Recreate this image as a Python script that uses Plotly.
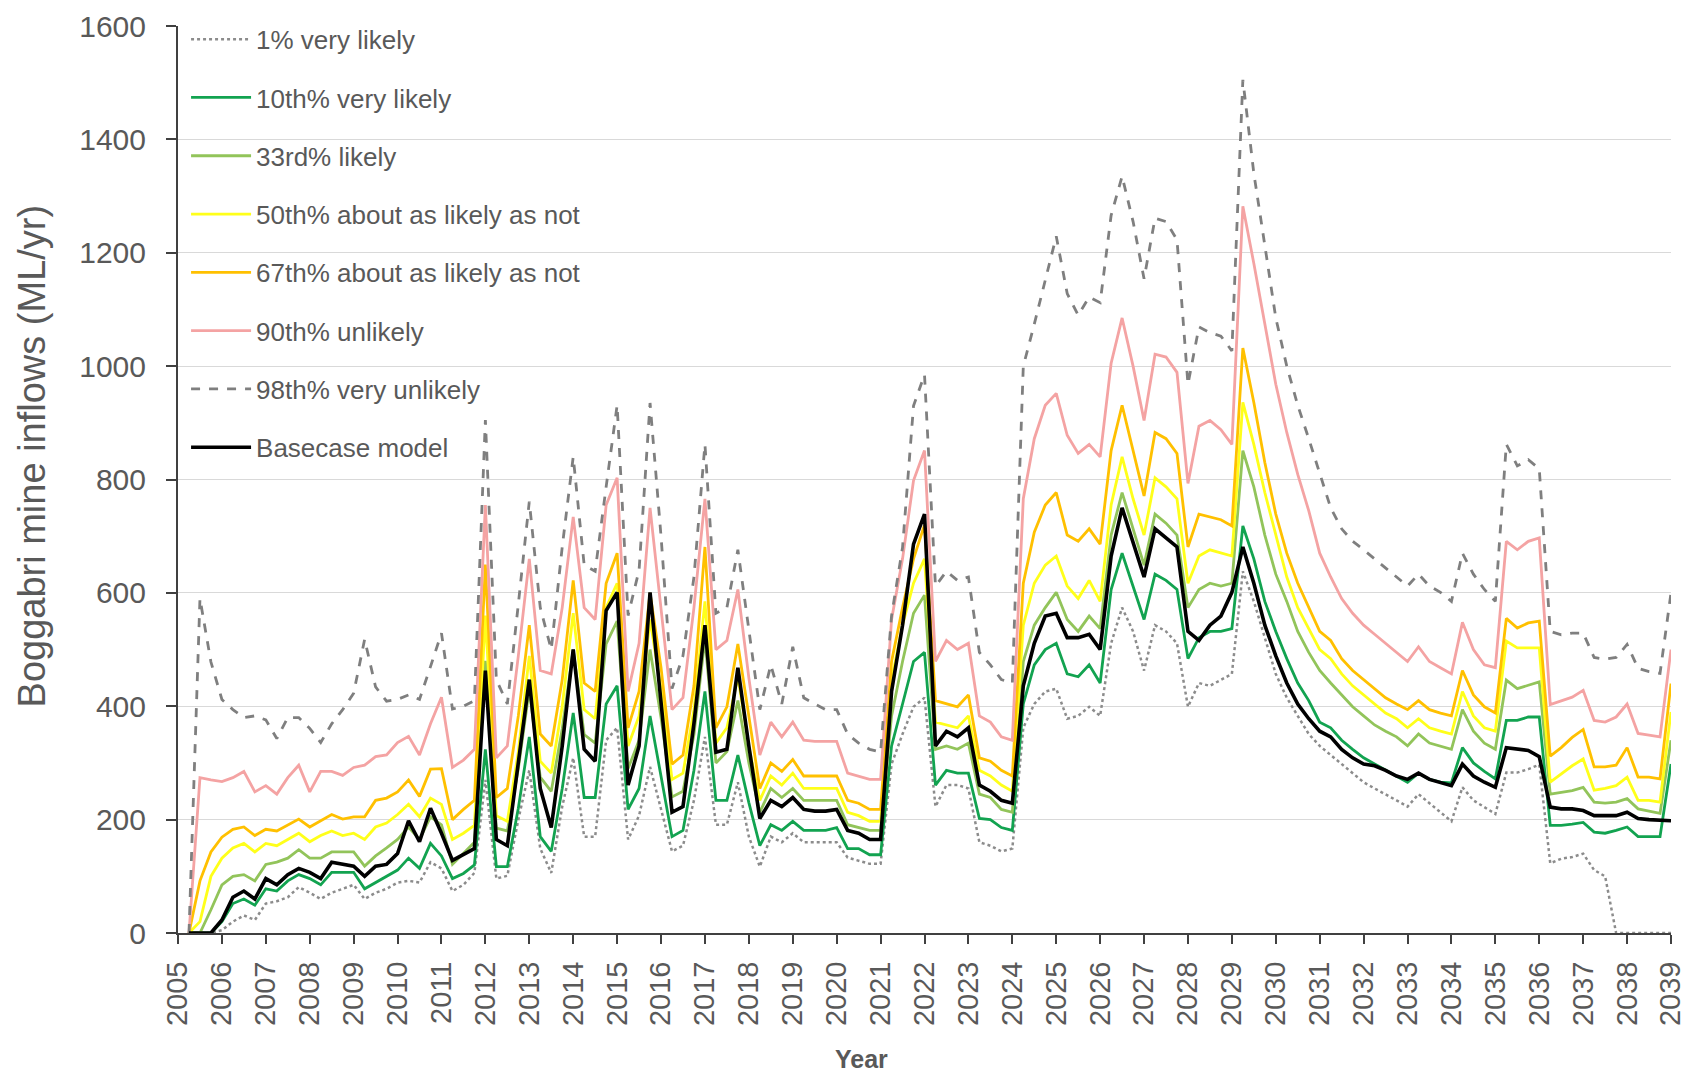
import plotly.graph_objects as go

# Quarterly time steps from 2005.25 to 2039.0
start_year = 2005
n_quarters = 136
quarters = [start_year + 0.25 * (i + 1) for i in range(n_quarters)]

series_names = [
    "1% very likely",
    "10th% very likely",
    "33rd% likely",
    "50th% about as likely as not",
    "67th% about as likely as not",
    "90th% unlikely",
    "98th% very unlikely",
    "Basecase model",
]

p01 = [
    0, 0, 0, 5,
    20, 31, 23, 52,
    56, 63, 81, 71,
    60, 71, 78, 85,
    60, 71, 78, 89,
    92, 89, 125, 114,
    74, 85, 106, 270,
    96, 101, 200, 287,
    149, 106, 223, 309,
    170, 170, 340, 362,
    165, 207, 293, 220,
    144, 154, 234, 346,
    191, 191, 266, 170,
    117, 170, 160, 176,
    160, 160, 160, 160,
    133, 128, 122, 122,
    298, 351, 399, 415,
    223, 261, 261, 255,
    160, 154, 144, 149,
    362, 404, 426, 431,
    378, 383, 399, 383,
    511, 574, 532, 463,
    543, 532, 511, 399,
    441, 436, 447, 457,
    638, 585, 521, 457,
    415, 383, 351, 330,
    314, 298, 282, 266,
    255, 245, 234, 223,
    245, 229, 213, 197,
    257, 234, 222, 210,
    283, 283, 289, 297,
    123, 131, 134, 140,
    111, 100, 0, 0,
    0, 0, 0, 0,
]

p10 = [
    0, 0, 0, 20,
    52, 60, 49, 78,
    74, 92, 103, 96,
    85, 107, 107, 107,
    78, 89, 100, 111,
    132, 114, 158, 136,
    96, 105, 120, 324,
    117, 117, 220, 346,
    170, 144, 255, 388,
    239, 239, 404, 436,
    218, 255, 383, 280,
    170, 181, 287, 426,
    234, 234, 314, 230,
    154, 191, 181, 197,
    181, 181, 181, 186,
    149, 149, 138, 138,
    330, 404, 479, 495,
    261, 287, 282, 282,
    202, 200, 186, 181,
    404, 473, 500, 511,
    457, 452, 473, 441,
    606, 670, 612, 553,
    633, 622, 606, 484,
    521, 532, 532, 537,
    718, 660, 585, 532,
    484, 441, 410, 372,
    362, 340, 324, 309,
    298, 287, 277, 266,
    282, 271, 266, 265,
    327, 300, 285, 272,
    375, 375, 381, 381,
    190, 190, 192, 195,
    178, 176, 181, 187,
    170, 170, 170, 298,
]

p33 = [
    0, 0, 41, 85,
    100, 103, 92, 121,
    125, 132, 147, 132,
    132, 143, 143, 143,
    118, 136, 150, 165,
    187, 165, 205, 191,
    121, 140, 160, 480,
    185, 180, 290, 430,
    275, 250, 360, 500,
    350, 335, 510, 550,
    290, 340, 500, 380,
    240, 250, 350, 520,
    300, 320, 410, 300,
    213, 255, 239, 255,
    234, 234, 234, 234,
    191, 186, 181, 181,
    383, 479, 564, 596,
    324, 330, 324, 335,
    245, 239, 218, 213,
    479, 543, 574, 601,
    553, 532, 559, 537,
    702, 777, 713, 649,
    739, 723, 702, 574,
    606, 617, 612, 617,
    851, 787, 702, 633,
    585, 532, 495, 463,
    441, 420, 399, 383,
    367, 356, 346, 330,
    351, 335, 330, 324,
    394, 356, 335, 324,
    446, 431, 437, 443,
    245, 248, 251, 257,
    231, 229, 231, 237,
    219, 215, 211, 340,
]

p50 = [
    0, 20, 100, 132,
    150, 158, 143, 158,
    154, 165, 176, 161,
    172, 180, 172, 176,
    165, 187, 194, 209,
    227, 205, 238, 227,
    165, 176, 190, 560,
    207, 197, 320, 489,
    303, 282, 400, 564,
    394, 378, 574, 617,
    330, 383, 553, 430,
    271, 282, 394, 585,
    335, 362, 452, 330,
    234, 277, 261, 282,
    255, 255, 255, 255,
    213, 207, 197, 197,
    447, 543, 617, 660,
    372, 367, 362, 383,
    287, 277, 261, 250,
    543, 617, 649, 665,
    612, 590, 622, 585,
    755, 840, 766, 702,
    803, 787, 766, 617,
    665, 676, 670, 665,
    936, 862, 777, 702,
    628, 574, 537, 500,
    484, 457, 436, 420,
    404, 388, 378, 362,
    378, 362, 356, 351,
    426, 383, 362, 356,
    515, 503, 503, 503,
    266, 280, 295, 307,
    252, 255, 260, 275,
    234, 234, 231, 390,
]

p67 = [
    0, 92, 143, 169,
    183, 187, 172, 183,
    180, 191, 201, 187,
    198, 209, 201, 205,
    205, 234, 238, 249,
    270, 241, 289, 290,
    200, 218, 234, 650,
    239, 255, 383, 543,
    351, 330, 447, 622,
    441, 426, 617, 670,
    362, 426, 600, 468,
    298, 314, 436, 681,
    362, 399, 510, 380,
    255, 300, 285, 306,
    277, 277, 277, 277,
    234, 229, 218, 218,
    479, 574, 660, 720,
    410, 404, 399, 420,
    309, 303, 287, 277,
    617, 707, 755, 777,
    702, 691, 713, 686,
    851, 931, 851, 771,
    883, 872, 846, 681,
    739, 734, 729, 718,
    1032, 936, 830, 739,
    670, 617, 574, 532,
    516, 484, 463, 447,
    431, 415, 404, 394,
    410, 394, 388, 383,
    463, 420, 399, 388,
    555, 538, 547, 550,
    312, 327, 345, 359,
    293, 293, 296, 327,
    275, 275, 272, 440,
]

p90 = [
    0, 274, 270, 267,
    274, 285, 249, 260,
    245, 274, 296, 249,
    285, 285, 278, 292,
    296, 311, 314, 336,
    347, 314, 369, 416,
    292, 305, 324, 755,
    309, 330, 489, 660,
    463, 457, 574, 734,
    574, 553, 755, 803,
    426, 511, 750, 574,
    394, 415, 574, 766,
    500, 516, 606, 450,
    314, 372, 346, 372,
    340, 338, 338, 338,
    282, 277, 271, 271,
    553, 660, 798, 851,
    479, 516, 500, 511,
    383, 372, 346, 340,
    766, 872, 931, 952,
    878, 846, 862, 840,
    1005, 1085, 1000, 904,
    1021, 1016, 989, 793,
    894, 904, 888, 862,
    1282, 1181, 1074, 968,
    883, 809, 745, 670,
    628, 590, 564, 543,
    527, 511, 495, 479,
    505, 479, 468, 457,
    548, 500, 473, 468,
    691, 676, 691, 697,
    403, 410, 416, 428,
    375, 372, 381, 404,
    352, 349, 346, 500,
]

p98 = [
    0, 590, 478, 412,
    394, 380, 383, 376,
    343, 380, 380, 361,
    336, 369, 394, 423,
    518, 434, 409, 412,
    420, 412, 470, 529,
    395, 400, 410, 905,
    447, 404, 580, 761,
    574, 500, 681, 840,
    649, 638, 787, 931,
    560, 640, 935, 700,
    431, 489, 628, 862,
    564, 574, 676, 532,
    394, 473, 404, 505,
    415, 404, 394, 394,
    351, 335, 324, 319,
    560, 680, 930, 985,
    612, 638, 622, 628,
    495, 473, 447, 441,
    1000, 1074, 1149, 1229,
    1128, 1090, 1122, 1112,
    1266, 1335, 1255, 1154,
    1261, 1255, 1223, 968,
    1069, 1059, 1053, 1027,
    1505, 1340, 1213, 1085,
    1000, 931, 872, 809,
    750, 713, 691, 676,
    660, 644, 628, 612,
    633, 612, 601, 585,
    670, 633, 606, 585,
    862, 824, 835, 819,
    532, 526, 529, 529,
    486, 483, 486, 509,
    467, 461, 458, 600,
]

basecase = [
    0, 0, 0, 23,
    63, 74, 60, 96,
    85, 103, 114, 107,
    96, 125, 121, 118,
    100, 118, 121, 140,
    198, 161, 220, 176,
    128, 138, 149, 463,
    165, 154, 298, 447,
    255, 186, 330, 500,
    324, 303, 569, 601,
    261, 330, 601, 400,
    213, 223, 370, 543,
    319, 324, 468, 330,
    202, 234, 223, 239,
    218, 215, 215, 218,
    181, 176, 165, 165,
    426, 543, 686, 739,
    330, 356, 346, 362,
    261, 250, 234, 229,
    436, 511, 559, 564,
    521, 521, 527, 500,
    665, 750, 691, 628,
    713, 697, 681, 532,
    516, 543, 559, 601,
    681, 617, 543, 489,
    441, 404, 378, 356,
    346, 324, 309, 298,
    295, 287, 277, 271,
    282, 271, 266, 260,
    298, 277, 266, 257,
    327, 324, 322, 311,
    222, 219, 219, 216,
    207, 207, 207, 213,
    202, 200, 199, 198,
]

year_ticks = list(range(2005, 2040))
y_ticks = list(range(0, 1601, 200))

all_values = [p01, p10, p33, p50, p67, p90, p98, basecase]
colors = ["#8c8c8c", "#12a350", "#92c45a", "#ffff1a", "#ffc000", "#f4a3a3", "#7f7f7f", "#000000"]
widths = [2.5, 2.8, 2.8, 2.8, 2.8, 2.8, 2.8, 3.6]
dashes = ["dot", "solid", "solid", "solid", "solid", "solid", "dash", "solid"]

fig = go.Figure()
for i, (name, vals) in enumerate(zip(series_names, all_values)):
    fig.add_trace(go.Scatter(
        x=quarters, y=vals, mode="lines", name=name,
        legendgroup=f"g{i}",
        line=dict(color=colors[i], width=widths[i], dash=dashes[i]),
    ))

fig.update_layout(
    width=1689, height=1073,
    paper_bgcolor="white", plot_bgcolor="white",
    margin=dict(l=170, r=26, t=18, b=148, autoexpand=False),
    font=dict(family="Liberation Sans, Arial, sans-serif", color="#595959"),
    showlegend=True,
    legend=dict(
        x=0.0054, y=1.0113, xanchor="left", yanchor="top",
        bgcolor="rgba(255,255,255,0)",
        font=dict(size=26, color="#595959"),
        tracegroupgap=21.5, itemwidth=60,
    ),
    annotations=[
        dict(text="<b>Year</b>", xref="paper", yref="paper", x=0.458, y=-0.1385,
             xanchor="center", yanchor="middle", showarrow=False,
             font=dict(size=25, color="#595959")),
        dict(text="Boggabri mine inflows (ML/yr)", xref="paper", yref="paper",
             x=-0.0978, y=0.5265, xanchor="center", yanchor="middle", textangle=-90,
             showarrow=False, font=dict(size=38, color="#595959")),
    ],
)
fig.update_xaxes(
    range=[2005, 2039], tickmode="array", tickvals=year_ticks,
    ticktext=[str(y) for y in year_ticks], tickangle=-90,
    tickfont=dict(size=29, color="#595959"), ticklabelstandoff=6,
    ticklabeloverflow="allow",
    showline=True, linecolor="#404040", linewidth=2,
    ticks="outside", ticklen=9, tickcolor="#404040", tickwidth=2,
    showgrid=False, zeroline=False, automargin=False,
)
fig.update_yaxes(
    range=[0, 1600], tickmode="array", tickvals=y_ticks,
    tickfont=dict(size=30, color="#595959"), ticklabelstandoff=14,
    ticklabeloverflow="allow",
    showline=True, linecolor="#404040", linewidth=2,
    ticks="outside", ticklen=10, tickcolor="#404040", tickwidth=2,
    showgrid=True, gridcolor="#d9d9d9", gridwidth=1.2, zeroline=False,
    automargin=False,
)

fig.write_html("out.html")
